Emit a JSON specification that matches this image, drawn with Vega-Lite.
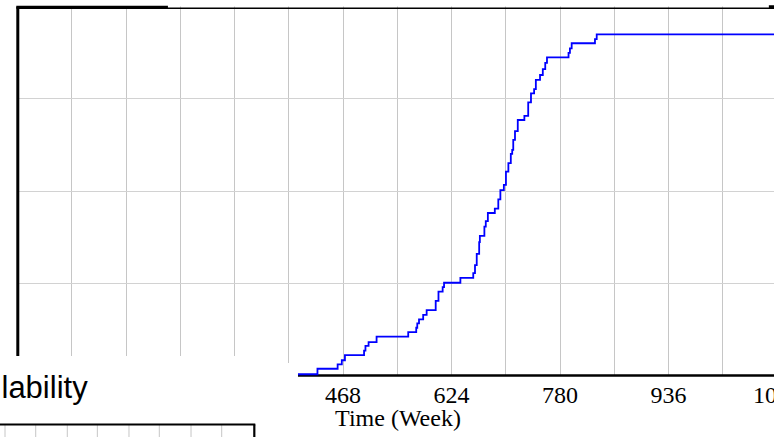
{
  "$schema": "https://vega.github.io/schema/vega-lite/v6.json",
  "width": 757,
  "height": 369,
  "autosize": {"type": "none"},
  "padding": {"left": 17, "top": 6, "right": 0, "bottom": 62},
  "background": "white",
  "config": {"view": {"stroke": null}},
  "datasets": {
    "line": [
      {"x": 0, "y": 0.002}, {"x": 432, "y": 0.017}, {"x": 461, "y": 0.029}, {"x": 467, "y": 0.04},
      {"x": 471.5, "y": 0.054}, {"x": 499, "y": 0.066}, {"x": 501, "y": 0.079}, {"x": 505.5, "y": 0.089},
      {"x": 517, "y": 0.104}, {"x": 562.5, "y": 0.116}, {"x": 574, "y": 0.128}, {"x": 575.5, "y": 0.14},
      {"x": 578, "y": 0.151}, {"x": 584, "y": 0.163}, {"x": 589, "y": 0.176}, {"x": 602, "y": 0.201},
      {"x": 606, "y": 0.226}, {"x": 612, "y": 0.238}, {"x": 614, "y": 0.25}, {"x": 637.5, "y": 0.263},
      {"x": 656, "y": 0.276}, {"x": 658.5, "y": 0.298}, {"x": 661, "y": 0.328}, {"x": 664.5, "y": 0.36},
      {"x": 665.5, "y": 0.377}, {"x": 672, "y": 0.402}, {"x": 674, "y": 0.417}, {"x": 677, "y": 0.439},
      {"x": 687, "y": 0.451}, {"x": 692, "y": 0.476}, {"x": 695, "y": 0.501}, {"x": 700, "y": 0.515},
      {"x": 703, "y": 0.551}, {"x": 706.5, "y": 0.574}, {"x": 710, "y": 0.599}, {"x": 712, "y": 0.61},
      {"x": 713.5, "y": 0.637}, {"x": 716, "y": 0.661}, {"x": 720, "y": 0.691}, {"x": 729.5, "y": 0.702},
      {"x": 735, "y": 0.739}, {"x": 739, "y": 0.763}, {"x": 743.5, "y": 0.775}, {"x": 746, "y": 0.8},
      {"x": 752, "y": 0.813}, {"x": 756, "y": 0.829}, {"x": 759.5, "y": 0.846}, {"x": 762, "y": 0.861},
      {"x": 793, "y": 0.873}, {"x": 795, "y": 0.885}, {"x": 797.5, "y": 0.899}, {"x": 831, "y": 0.91},
      {"x": 833.5, "y": 0.923}, {"x": 1300, "y": 0.923}
    ],
    "covers": [
      {"x": -40, "x2": 352, "y": 0.0515, "y2": -0.25},
      {"x": -40, "x2": 404, "y": 0.0325, "y2": -0.25}
    ],
    "frameThick": [
      {"x": 1.15, "x2": 1.15, "y": 0.998, "y2": 0.0515},
      {"x": -1, "x2": 217, "y": 0.9967, "y2": 0.9967},
      {"x": 1081, "x2": 1100, "y": 0.998, "y2": 0.998}
    ],
    "frameThin": [
      {"x": 0, "x2": 1300, "y": 0.994, "y2": 0.994}
    ],
    "lowerGrid": [
      {"x": -17.25, "x2": -17.25, "y": -0.1341, "y2": -0.25},
      {"x": 26.9, "x2": 26.9, "y": -0.1341, "y2": -0.25},
      {"x": 72.3, "x2": 72.3, "y": -0.1341, "y2": -0.25},
      {"x": 115.5, "x2": 115.5, "y": -0.1341, "y2": -0.25},
      {"x": 161.0, "x2": 161.0, "y": -0.1341, "y2": -0.25},
      {"x": 204.6, "x2": 204.6, "y": -0.1341, "y2": -0.25},
      {"x": 250.2, "x2": 250.2, "y": -0.1341, "y2": -0.25},
      {"x": 294.3, "x2": 294.3, "y": -0.1341, "y2": -0.25}
    ],
    "lowerFrame": [
      {"x": -40, "x2": 342.6, "y": -0.1341, "y2": -0.1341},
      {"x": 341.2, "x2": 341.2, "y": -0.1341, "y2": -0.25}
    ],
    "titles": [
      {"x": -22.3, "y": -0.0615, "label": "lability"}
    ]
  },
  "layer": [
    {
      "data": {"name": "line"},
      "mark": {"type": "line", "interpolate": "step-after", "color": "#0000ff", "strokeWidth": 1.8},
      "encoding": {
        "x": {
          "field": "x", "type": "quantitative",
          "scale": {"domain": [0, 1248], "range": [0, 868], "nice": false, "zero": false},
          "axis": {
            "values": [0, 78, 156, 234, 312, 390, 468, 546, 624, 702, 780, 858, 936, 1014, 1092, 1170, 1248],
            "format": "d",
            "labelExpr": "datum.value % 156 == 0 && datum.value > 400 ? datum.label : ''",
            "labelFont": "Liberation Serif", "labelFontSize": 24, "labelColor": "black",
            "labelPadding": 8, "labelOverlap": false, "labelFlush": false,
            "ticks": false,
            "domainColor": "black", "domainWidth": 2.5,
            "grid": true, "gridColor": "#c6c6c6", "gridWidth": 1,
            "title": "Time (Week)", "titleFont": "Liberation Serif", "titleFontSize": 24,
            "titleFontWeight": "normal", "titleColor": "black",
            "titleX": 380.5, "titleY": 50, "titleAlign": "center", "titleBaseline": "alphabetic",
            "zindex": 0
          }
        },
        "y": {
          "field": "y", "type": "quantitative",
          "scale": {"domain": [0, 1], "nice": false, "zero": false},
          "axis": {
            "values": [0.25, 0.5, 0.75],
            "labels": false, "ticks": false, "domain": false,
            "grid": true, "gridColor": "#d2d2d2", "gridWidth": 1,
            "title": null, "zindex": 0
          }
        }
      }
    },
    {
      "data": {"name": "covers"},
      "mark": {"type": "rect", "fill": "white", "strokeWidth": 0},
      "encoding": {
        "x": {"field": "x", "type": "quantitative"},
        "x2": {"field": "x2"},
        "y": {"field": "y", "type": "quantitative"},
        "y2": {"field": "y2"}
      }
    },
    {
      "data": {"name": "frameThin"},
      "mark": {"type": "rule", "color": "black", "strokeWidth": 1.5},
      "encoding": {
        "x": {"field": "x", "type": "quantitative"},
        "x2": {"field": "x2"},
        "y": {"field": "y", "type": "quantitative"},
        "y2": {"field": "y2"}
      }
    },
    {
      "data": {"name": "frameThick"},
      "mark": {"type": "rule", "color": "black", "strokeWidth": 3},
      "encoding": {
        "x": {"field": "x", "type": "quantitative"},
        "x2": {"field": "x2"},
        "y": {"field": "y", "type": "quantitative"},
        "y2": {"field": "y2"}
      }
    },
    {
      "data": {"name": "lowerGrid"},
      "mark": {"type": "rule", "color": "#c6c6c6", "strokeWidth": 1},
      "encoding": {
        "x": {"field": "x", "type": "quantitative"},
        "x2": {"field": "x2"},
        "y": {"field": "y", "type": "quantitative"},
        "y2": {"field": "y2"}
      }
    },
    {
      "data": {"name": "lowerFrame"},
      "mark": {"type": "rule", "color": "black", "strokeWidth": 2.2},
      "encoding": {
        "x": {"field": "x", "type": "quantitative"},
        "x2": {"field": "x2"},
        "y": {"field": "y", "type": "quantitative"},
        "y2": {"field": "y2"}
      }
    },
    {
      "data": {"name": "titles"},
      "mark": {"type": "text", "align": "left", "baseline": "alphabetic", "font": "Liberation Sans", "fontSize": 31, "color": "black"},
      "encoding": {
        "x": {"field": "x", "type": "quantitative"},
        "y": {"field": "y", "type": "quantitative"},
        "text": {"field": "label"}
      }
    }
  ]
}
